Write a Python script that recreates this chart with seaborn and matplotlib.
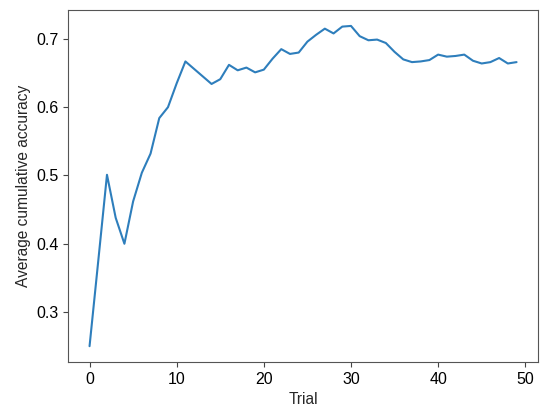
import numpy as np
import pandas as pd
import seaborn as sns
import matplotlib
matplotlib.use("Agg")
import matplotlib.pyplot as plt

# values
trial = list(range(50))
accuracy = [0.250, 0.375, 0.501, 0.438, 0.400, 0.462, 0.504, 0.532, 0.584, 0.600,
            0.635, 0.667, 0.656, 0.645, 0.634, 0.641, 0.662, 0.654, 0.658, 0.651,
            0.655, 0.671, 0.685, 0.678, 0.680, 0.696, 0.706, 0.715, 0.708, 0.718,
            0.719, 0.704, 0.698, 0.699, 0.694, 0.681, 0.670, 0.666, 0.667, 0.669,
            0.677, 0.674, 0.675, 0.677, 0.668, 0.664, 0.666, 0.672, 0.664, 0.666]

df = pd.DataFrame({'Trial': trial, 'Average cumulative accuracy': accuracy})

sns.set_style("ticks")
plt.rcParams['font.family'] = ['Liberation Sans', 'DejaVu Sans']

fig, ax = plt.subplots(figsize=(5.5, 4.13), dpi=100)
fig.subplots_adjust(left=0.124, right=0.978, top=0.976, bottom=0.123)

sns.lineplot(x='Trial', y='Average cumulative accuracy', data=df, ax=ax,
             color='#2e7ebc', linewidth=1.5)

ax.set_xticks([0, 10, 20, 30, 40, 50])
ax.set_yticks([0.3, 0.4, 0.5, 0.6, 0.7])
ax.tick_params(labelsize=11.5, colors='#444444', labelcolor='black')
ax.xaxis.label.set_size(11.2)
ax.yaxis.label.set_size(11.2)
for s in ax.spines.values():
    s.set_color('#555555')

plt.savefig("out.png", dpi=100)
